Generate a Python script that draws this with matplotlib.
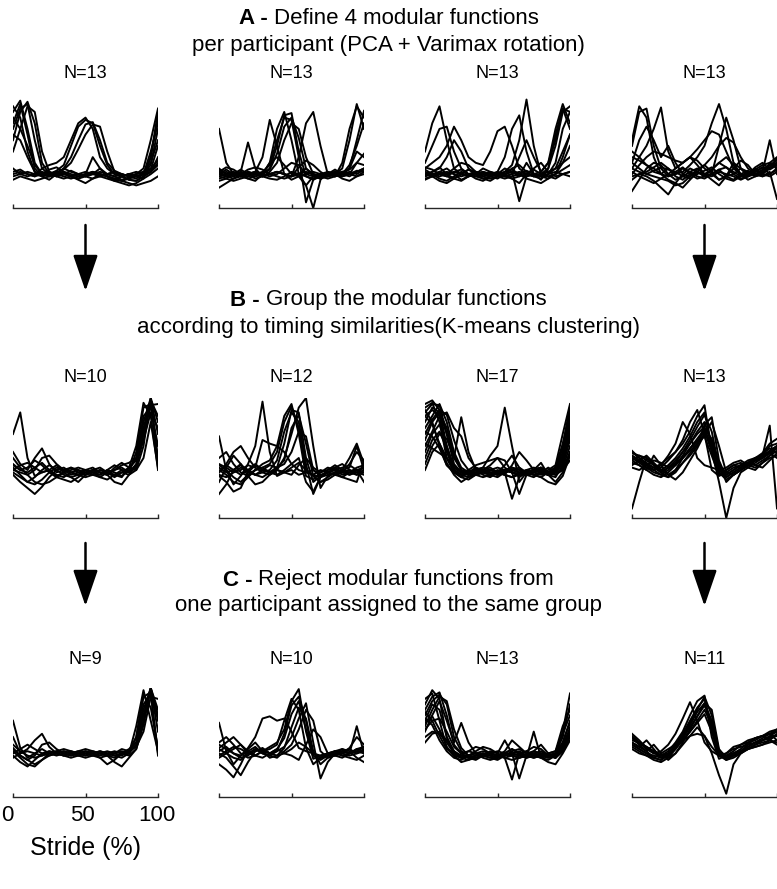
"""
Modular functions per participant, grouped by timing (K-means) and pruned.
Three rows of four small panels, curves sampled every 5 % of the stride.
"""
import matplotlib
matplotlib.use("Agg")
import matplotlib.pyplot as plt
import matplotlib.transforms as mtrans
from matplotlib.patches import FancyArrowPatch

plt.rcParams["font.family"] = ["Liberation Sans", "DejaVu Sans"]

W, H = 777, 889

stride = list(range(0, 101, 5))

# ── Row A: 4 modular functions per participant ───────────────────────────────
a1 = [
    [85, 95, 70, 40, 30, 28, 30, 32, 30, 28, 30, 32, 30, 28, 26, 28, 30, 28, 30, 45, 80],
    [70, 88, 92, 60, 35, 30, 28, 30, 33, 30, 28, 30, 35, 30, 28, 25, 27, 30, 35, 60, 88],
    [90, 80, 50, 32, 28, 30, 32, 30, 28, 30, 32, 30, 28, 30, 32, 30, 28, 30, 32, 40, 60],
    [60, 85, 94, 75, 40, 30, 28, 26, 28, 30, 28, 32, 30, 28, 25, 24, 26, 28, 30, 38, 70],
    [75, 92, 65, 35, 28, 25, 30, 35, 32, 30, 28, 26, 28, 30, 32, 28, 25, 24, 28, 32, 45],
    [50, 70, 90, 85, 50, 32, 28, 30, 28, 26, 28, 30, 32, 30, 28, 30, 28, 26, 30, 50, 75],
    [65, 60, 45, 32, 30, 34, 36, 32, 28, 25, 22, 26, 30, 28, 24, 22, 20, 22, 26, 30, 35],
    [30, 32, 30, 28, 35, 38, 40, 45, 60, 75, 80, 70, 45, 35, 30, 28, 25, 24, 28, 32, 40],
    [35, 30, 28, 30, 32, 30, 33, 38, 55, 72, 78, 75, 55, 38, 30, 28, 30, 28, 30, 34, 55],
    [32, 34, 30, 28, 30, 32, 30, 35, 45, 60, 74, 76, 60, 40, 33, 30, 28, 30, 32, 35, 42],
    [28, 30, 32, 30, 28, 30, 32, 34, 40, 52, 65, 74, 72, 50, 32, 28, 30, 32, 30, 32, 38],
    [80, 70, 55, 38, 30, 28, 30, 32, 28, 26, 30, 32, 28, 26, 24, 28, 30, 28, 26, 45, 85],
    [25, 28, 26, 24, 26, 28, 30, 28, 26, 28, 30, 45, 35, 28, 26, 24, 22, 20, 22, 24, 28],
]
a2 = [
    [70, 40, 30, 28, 32, 30, 28, 30, 32, 30, 28, 30, 32, 30, 28, 30, 32, 30, 28, 32, 35],
    [35, 30, 28, 32, 58, 35, 28, 30, 32, 30, 28, 30, 35, 30, 28, 30, 32, 30, 35, 50, 45],
    [30, 32, 30, 28, 30, 32, 45, 78, 55, 30, 25, 28, 30, 32, 30, 28, 30, 32, 30, 28, 30],
    [32, 28, 30, 32, 30, 28, 30, 40, 70, 85, 60, 30, 20, 28, 30, 28, 30, 32, 30, 33, 32],
    [28, 30, 32, 30, 28, 30, 32, 38, 60, 80, 78, 45, 5, 25, 30, 32, 30, 28, 30, 32, 35],
    [30, 34, 30, 28, 30, 32, 30, 35, 55, 82, 84, 50, 28, 25, 28, 30, 28, 30, 32, 30, 34],
    [26, 28, 30, 28, 26, 28, 30, 34, 48, 72, 80, 62, 35, 28, 26, 28, 30, 35, 60, 92, 70],
    [34, 30, 28, 30, 32, 30, 28, 32, 40, 60, 75, 70, 45, 30, 28, 26, 28, 40, 70, 90, 80],
    [24, 26, 30, 34, 30, 26, 28, 30, 32, 30, 28, 45, 75, 85, 55, 30, 28, 30, 38, 55, 75],
    [30, 28, 26, 28, 30, 32, 30, 28, 30, 35, 40, 38, 30, 28, 26, 30, 34, 30, 35, 60, 86],
    [18, 22, 26, 30, 34, 36, 34, 30, 28, 26, 28, 36, 42, 38, 32, 28, 30, 26, 24, 28, 32],
    [32, 36, 34, 30, 26, 24, 30, 40, 45, 38, 30, 28, 20, 0, 25, 32, 30, 28, 30, 40, 48],
    [28, 26, 24, 26, 28, 30, 28, 26, 25, 28, 32, 30, 28, 26, 28, 30, 28, 32, 34, 40, 38],
]
a3 = [
    [50, 75, 90, 60, 35, 30, 28, 30, 32, 30, 28, 30, 32, 30, 28, 30, 32, 40, 60, 88, 70],
    [40, 55, 70, 72, 50, 35, 30, 28, 30, 32, 30, 28, 30, 32, 30, 28, 30, 32, 35, 40, 45],
    [35, 40, 45, 55, 72, 60, 45, 40, 38, 50, 68, 72, 55, 35, 30, 28, 30, 35, 55, 85, 90],
    [30, 32, 35, 45, 60, 50, 35, 30, 28, 30, 32, 45, 70, 82, 50, 30, 28, 30, 35, 50, 65],
    [28, 30, 32, 30, 35, 40, 38, 32, 30, 28, 30, 32, 38, 60, 96, 55, 30, 28, 30, 40, 55],
    [32, 30, 28, 30, 32, 30, 28, 30, 35, 32, 30, 28, 30, 45, 60, 45, 32, 40, 70, 92, 75],
    [30, 28, 30, 32, 30, 28, 30, 32, 30, 28, 30, 35, 32, 28, 40, 30, 25, 35, 65, 88, 85],
    [26, 28, 30, 28, 26, 30, 34, 32, 28, 26, 28, 30, 32, 6, 28, 30, 28, 26, 30, 34, 38],
    [34, 30, 26, 24, 28, 32, 30, 26, 24, 28, 32, 30, 26, 22, 30, 35, 40, 32, 28, 30, 32],
    [30, 28, 24, 22, 26, 30, 34, 30, 26, 24, 28, 32, 34, 30, 26, 24, 22, 26, 30, 45, 65],
    [28, 32, 36, 30, 26, 24, 28, 32, 30, 28, 26, 30, 35, 38, 32, 28, 26, 30, 40, 70, 85],
    [36, 34, 30, 28, 32, 34, 30, 28, 26, 28, 30, 28, 26, 28, 30, 34, 30, 28, 26, 30, 32],
    [25, 28, 32, 35, 30, 25, 28, 30, 32, 30, 28, 26, 28, 30, 33, 30, 28, 30, 32, 30, 28],
]
a4 = [
    [60, 90, 80, 45, 30, 35, 28, 25, 30, 32, 28, 30, 25, 28, 30, 35, 32, 30, 28, 30, 35],
    [55, 85, 88, 55, 35, 28, 30, 35, 32, 28, 26, 30, 34, 28, 25, 30, 33, 28, 30, 40, 45],
    [40, 60, 72, 60, 45, 55, 40, 30, 28, 32, 38, 45, 55, 62, 58, 45, 35, 30, 32, 36, 40],
    [35, 45, 55, 70, 89, 50, 35, 40, 45, 38, 30, 34, 40, 45, 38, 28, 30, 35, 30, 38, 42],
    [30, 38, 45, 50, 48, 45, 42, 40, 45, 52, 60, 68, 65, 50, 35, 30, 28, 32, 36, 30, 34],
    [28, 30, 32, 36, 40, 35, 30, 32, 38, 45, 55, 75, 92, 70, 40, 30, 25, 28, 30, 35, 40],
    [32, 28, 25, 22, 26, 30, 35, 40, 45, 42, 35, 30, 55, 80, 60, 35, 28, 30, 32, 60, 30],
    [15, 25, 35, 40, 38, 30, 25, 28, 32, 35, 30, 25, 20, 28, 40, 35, 30, 34, 38, 40, 38],
    [40, 35, 30, 28, 26, 24, 20, 22, 28, 34, 38, 32, 25, 28, 35, 42, 38, 30, 28, 32, 8],
    [45, 42, 38, 35, 30, 25, 22, 18, 25, 32, 30, 28, 32, 30, 28, 25, 28, 34, 30, 28, 32],
    [25, 30, 28, 24, 18, 12, 22, 30, 35, 32, 28, 30, 34, 36, 32, 28, 30, 36, 40, 34, 38],
    [35, 32, 30, 33, 36, 34, 32, 28, 26, 30, 33, 36, 30, 26, 24, 28, 32, 30, 34, 38, 36],
    [50, 45, 38, 32, 30, 28, 32, 36, 30, 26, 28, 34, 40, 36, 30, 26, 28, 32, 36, 35, 44],
]

# ── Row B: grouped by timing similarity ──────────────────────────────────────
b1 = [
    [70, 88, 50, 35, 38, 40, 36, 34, 38, 40, 36, 38, 34, 38, 40, 44, 46, 50, 70, 98, 85],
    [55, 45, 40, 50, 58, 45, 38, 40, 42, 38, 36, 38, 40, 38, 36, 38, 42, 48, 80, 100, 45],
    [45, 40, 38, 42, 46, 40, 35, 38, 40, 42, 40, 38, 36, 40, 44, 40, 38, 55, 92, 95, 50],
    [40, 38, 36, 40, 50, 52, 45, 40, 38, 36, 38, 40, 42, 38, 36, 34, 42, 60, 96, 85, 40],
    [42, 36, 30, 28, 32, 38, 42, 40, 36, 38, 40, 42, 38, 36, 40, 42, 38, 45, 75, 99, 70],
    [38, 34, 30, 34, 40, 44, 40, 36, 34, 36, 40, 38, 36, 40, 38, 35, 40, 50, 85, 92, 60],
    [36, 30, 25, 20, 26, 34, 40, 42, 38, 36, 34, 36, 40, 38, 34, 38, 36, 40, 60, 100, 80],
    [50, 42, 36, 30, 28, 30, 34, 38, 42, 40, 38, 36, 34, 32, 36, 40, 38, 42, 70, 94, 95],
    [44, 40, 42, 48, 44, 38, 34, 32, 30, 34, 38, 40, 38, 36, 30, 28, 36, 44, 65, 88, 75],
    [40, 44, 46, 42, 38, 40, 44, 38, 34, 30, 36, 40, 38, 36, 42, 46, 42, 40, 50, 80, 42],
]
b2 = [
    [68, 40, 28, 35, 45, 60, 97, 55, 35, 38, 40, 36, 38, 40, 36, 38, 40, 36, 38, 40, 42],
    [38, 45, 55, 60, 50, 42, 65, 62, 60, 55, 45, 40, 38, 36, 40, 38, 36, 38, 40, 36, 38],
    [50, 55, 45, 38, 35, 40, 45, 48, 60, 85, 95, 70, 35, 32, 38, 42, 40, 38, 45, 55, 48],
    [40, 36, 30, 28, 34, 40, 42, 45, 55, 80, 93, 75, 40, 35, 30, 34, 38, 40, 38, 36, 40],
    [35, 30, 22, 25, 38, 44, 40, 38, 42, 62, 90, 88, 50, 30, 35, 38, 36, 34, 38, 42, 44],
    [45, 42, 38, 40, 44, 42, 38, 36, 40, 50, 70, 92, 100, 60, 25, 35, 38, 40, 36, 38, 42],
    [30, 42, 52, 45, 38, 36, 40, 44, 42, 48, 75, 86, 62, 35, 30, 32, 36, 40, 50, 62, 45],
    [42, 38, 40, 44, 40, 36, 38, 40, 48, 72, 88, 80, 45, 20, 34, 40, 42, 38, 36, 40, 38],
    [38, 44, 40, 36, 40, 45, 40, 38, 42, 45, 55, 72, 68, 40, 35, 38, 42, 45, 40, 38, 36],
    [20, 28, 40, 45, 35, 28, 30, 36, 40, 38, 36, 44, 50, 42, 38, 40, 44, 40, 42, 60, 40],
    [44, 40, 34, 30, 36, 40, 42, 38, 36, 40, 45, 50, 30, 22, 34, 38, 40, 42, 44, 40, 30],
    [36, 34, 38, 42, 40, 36, 34, 38, 40, 38, 42, 46, 40, 36, 34, 36, 38, 34, 32, 30, 48],
]
b3 = [
    [95, 98, 90, 60, 42, 38, 36, 38, 40, 38, 36, 38, 40, 38, 36, 38, 40, 38, 42, 60, 93],
    [92, 96, 80, 50, 40, 36, 38, 40, 38, 36, 38, 40, 38, 36, 38, 40, 38, 36, 40, 55, 85],
    [88, 95, 94, 70, 45, 38, 36, 38, 40, 38, 36, 38, 40, 42, 38, 36, 38, 40, 44, 70, 95],
    [85, 90, 85, 55, 40, 36, 34, 36, 38, 40, 38, 36, 34, 36, 38, 40, 42, 38, 40, 50, 75],
    [80, 92, 88, 75, 52, 40, 38, 36, 38, 40, 42, 40, 38, 36, 38, 40, 38, 36, 38, 48, 70],
    [75, 85, 95, 80, 55, 42, 38, 36, 38, 40, 38, 36, 34, 38, 40, 38, 36, 38, 42, 62, 88],
    [90, 80, 60, 44, 38, 36, 38, 40, 38, 36, 38, 40, 38, 36, 40, 42, 40, 38, 40, 52, 80],
    [70, 82, 90, 86, 65, 48, 40, 36, 34, 36, 38, 40, 42, 40, 38, 36, 34, 38, 42, 58, 82],
    [65, 80, 88, 70, 50, 84, 55, 40, 36, 34, 38, 40, 38, 36, 38, 40, 38, 36, 38, 45, 65],
    [60, 72, 85, 88, 75, 68, 50, 42, 40, 38, 36, 38, 40, 38, 36, 38, 40, 38, 36, 40, 55],
    [55, 70, 78, 60, 42, 38, 40, 44, 46, 48, 50, 42, 38, 36, 38, 40, 42, 38, 36, 42, 60],
    [50, 65, 72, 58, 40, 36, 38, 40, 42, 52, 60, 92, 60, 30, 38, 40, 38, 36, 38, 46, 72],
    [45, 60, 70, 66, 50, 40, 36, 38, 40, 44, 50, 48, 38, 20, 36, 40, 42, 38, 40, 50, 78],
    [40, 55, 62, 50, 38, 34, 32, 36, 40, 42, 38, 36, 44, 55, 48, 40, 46, 36, 30, 38, 55],
    [85, 78, 62, 46, 36, 30, 34, 38, 40, 36, 34, 38, 42, 40, 36, 34, 38, 42, 38, 40, 48],
    [72, 68, 58, 44, 38, 34, 38, 42, 38, 36, 40, 38, 16, 34, 38, 36, 34, 30, 28, 35, 52],
    [62, 58, 54, 50, 44, 38, 36, 40, 42, 40, 38, 44, 52, 42, 36, 38, 40, 36, 34, 44, 68],
]
b4 = [
    [55, 50, 45, 42, 45, 50, 55, 65, 80, 90, 70, 40, 35, 38, 42, 44, 46, 50, 52, 55, 58],
    [50, 48, 44, 40, 42, 48, 55, 62, 72, 85, 94, 55, 38, 40, 44, 42, 46, 48, 52, 56, 60],
    [48, 52, 50, 45, 40, 44, 50, 58, 68, 80, 88, 60, 40, 36, 40, 44, 48, 50, 54, 58, 54],
    [52, 48, 42, 38, 36, 40, 46, 55, 65, 76, 86, 72, 42, 34, 38, 42, 46, 44, 48, 52, 56],
    [46, 44, 40, 36, 34, 38, 44, 52, 62, 72, 80, 62, 38, 32, 36, 40, 44, 48, 50, 54, 58],
    [50, 46, 42, 40, 44, 52, 62, 80, 70, 50, 44, 42, 40, 42, 46, 48, 44, 42, 46, 50, 52],
    [8, 30, 50, 45, 38, 42, 48, 55, 62, 70, 76, 56, 30, 0, 25, 38, 42, 46, 50, 54, 50],
    [54, 52, 48, 44, 38, 34, 40, 50, 58, 66, 74, 66, 44, 36, 40, 44, 46, 50, 52, 77, 8],
    [44, 48, 52, 46, 40, 36, 32, 38, 48, 58, 70, 80, 60, 38, 36, 40, 44, 48, 52, 60, 62],
    [56, 50, 46, 42, 38, 42, 46, 50, 56, 62, 68, 52, 36, 40, 44, 46, 42, 40, 46, 52, 60],
    [48, 44, 40, 52, 44, 36, 40, 46, 52, 60, 78, 84, 48, 34, 38, 42, 46, 44, 42, 48, 54],
    [42, 40, 44, 48, 46, 42, 44, 50, 58, 64, 72, 56, 42, 38, 36, 40, 44, 48, 54, 62, 66],
    [52, 48, 44, 40, 36, 34, 38, 46, 54, 62, 70, 64, 46, 30, 36, 40, 44, 48, 50, 56, 60],
]

# ── Row C: one function per participant per group ────────────────────────────
c1 = [
    [70, 45, 36, 40, 44, 40, 38, 40, 42, 40, 38, 40, 42, 40, 38, 40, 44, 50, 80, 100, 60],
    [55, 40, 44, 52, 58, 46, 40, 38, 40, 42, 40, 38, 40, 42, 40, 38, 42, 55, 92, 96, 38],
    [45, 38, 34, 38, 48, 50, 44, 40, 38, 40, 42, 40, 38, 40, 42, 40, 40, 48, 75, 100, 80],
    [42, 36, 30, 28, 34, 40, 42, 40, 38, 40, 42, 40, 36, 30, 34, 40, 38, 44, 70, 99, 70],
    [40, 44, 48, 44, 40, 38, 40, 42, 40, 38, 40, 42, 40, 38, 36, 40, 42, 46, 60, 92, 90],
    [38, 32, 28, 34, 40, 42, 40, 38, 40, 42, 44, 42, 40, 38, 40, 42, 40, 55, 94, 82, 45],
    [36, 40, 42, 40, 38, 40, 42, 44, 42, 40, 38, 40, 42, 40, 38, 36, 40, 65, 98, 70, 42],
    [48, 42, 38, 36, 38, 42, 40, 38, 36, 38, 40, 38, 36, 38, 32, 28, 36, 44, 66, 100, 75],
    [44, 38, 34, 30, 34, 38, 40, 42, 40, 38, 36, 38, 40, 38, 40, 44, 42, 50, 85, 95, 40],
]
c2 = [
    [68, 42, 30, 38, 45, 55, 72, 74, 70, 72, 60, 45, 42, 40, 38, 40, 42, 38, 40, 44, 46],
    [45, 50, 55, 48, 40, 38, 42, 46, 50, 62, 88, 99, 60, 35, 38, 40, 42, 40, 38, 40, 42],
    [40, 36, 28, 20, 32, 42, 44, 40, 42, 58, 84, 92, 70, 38, 34, 38, 42, 44, 40, 42, 40],
    [50, 55, 48, 40, 36, 38, 42, 44, 48, 70, 90, 80, 45, 30, 36, 40, 38, 40, 45, 55, 48],
    [38, 42, 46, 44, 40, 42, 45, 40, 44, 54, 76, 88, 62, 40, 36, 38, 40, 42, 40, 65, 40],
    [30, 25, 18, 30, 44, 50, 42, 36, 38, 45, 64, 82, 72, 42, 30, 36, 40, 38, 36, 34, 38],
    [42, 46, 40, 36, 38, 44, 40, 38, 36, 42, 48, 62, 80, 70, 42, 36, 38, 42, 44, 40, 44],
    [48, 44, 40, 38, 42, 46, 40, 38, 42, 46, 55, 72, 86, 50, 17, 32, 40, 42, 40, 44, 42],
    [36, 40, 44, 48, 42, 38, 36, 40, 44, 40, 38, 34, 48, 62, 55, 40, 38, 36, 40, 42, 46],
    [44, 40, 36, 34, 40, 44, 42, 40, 38, 40, 44, 50, 46, 40, 36, 38, 40, 44, 42, 36, 32],
]
c3 = [
    [85, 98, 90, 55, 40, 38, 36, 38, 40, 38, 36, 38, 40, 38, 36, 38, 40, 38, 40, 60, 95],
    [90, 95, 70, 45, 38, 36, 38, 40, 38, 36, 38, 40, 38, 36, 38, 40, 38, 36, 40, 55, 85],
    [80, 92, 96, 75, 48, 40, 36, 38, 40, 38, 36, 38, 40, 42, 38, 36, 38, 40, 42, 65, 80],
    [75, 88, 94, 85, 55, 42, 38, 36, 38, 40, 42, 40, 38, 36, 38, 40, 42, 38, 40, 50, 70],
    [70, 85, 80, 55, 42, 36, 34, 36, 38, 40, 38, 36, 34, 36, 38, 40, 38, 36, 38, 48, 62],
    [65, 80, 92, 88, 62, 45, 38, 36, 38, 40, 38, 36, 38, 40, 38, 36, 38, 40, 42, 58, 75],
    [60, 75, 88, 70, 50, 68, 50, 40, 36, 34, 36, 40, 44, 40, 36, 38, 40, 38, 36, 45, 60],
    [55, 60, 58, 50, 40, 36, 38, 42, 46, 44, 40, 52, 40, 17, 38, 42, 40, 38, 36, 42, 55],
    [72, 66, 52, 42, 36, 34, 38, 40, 42, 40, 38, 40, 44, 40, 36, 60, 36, 38, 40, 50, 68],
    [50, 58, 60, 52, 42, 38, 36, 34, 38, 42, 40, 36, 16, 40, 42, 38, 36, 34, 38, 46, 58],
    [68, 74, 62, 46, 38, 32, 34, 38, 40, 38, 36, 38, 42, 44, 40, 38, 36, 32, 30, 40, 52],
    [78, 70, 56, 44, 40, 38, 42, 46, 44, 40, 38, 42, 52, 46, 40, 42, 48, 40, 36, 44, 64],
    [62, 70, 72, 60, 46, 40, 42, 40, 38, 36, 34, 38, 40, 38, 42, 46, 44, 38, 36, 42, 56],
]
c4 = [
    [58, 52, 45, 40, 38, 42, 50, 60, 75, 88, 93, 55, 35, 38, 40, 42, 44, 46, 48, 52, 58],
    [54, 48, 42, 36, 34, 40, 48, 58, 70, 82, 90, 62, 38, 36, 40, 42, 44, 48, 52, 56, 60],
    [50, 46, 52, 44, 36, 38, 44, 54, 66, 78, 86, 70, 40, 34, 38, 40, 46, 50, 52, 55, 57],
    [48, 44, 40, 36, 34, 38, 46, 56, 68, 80, 92, 75, 42, 36, 38, 42, 48, 54, 56, 58, 62],
    [56, 50, 44, 40, 42, 48, 58, 72, 87, 70, 50, 42, 38, 40, 44, 46, 48, 50, 52, 54, 56],
    [52, 50, 46, 42, 38, 36, 40, 48, 56, 64, 56, 40, 20, 3, 30, 40, 44, 46, 48, 50, 52],
    [46, 42, 38, 34, 32, 36, 44, 52, 60, 70, 80, 66, 40, 36, 40, 44, 50, 54, 56, 58, 52],
    [50, 46, 42, 48, 40, 34, 40, 50, 62, 74, 86, 80, 44, 36, 38, 42, 46, 50, 54, 58, 60],
    [44, 40, 38, 36, 40, 44, 48, 52, 56, 58, 56, 46, 38, 40, 46, 48, 50, 52, 56, 60, 62],
    [55, 50, 46, 42, 38, 40, 46, 52, 60, 68, 76, 60, 38, 34, 36, 40, 44, 48, 50, 52, 50],
    [48, 44, 40, 38, 36, 40, 46, 54, 64, 74, 84, 68, 42, 38, 42, 48, 52, 54, 56, 52, 48],
]

rows = [[a1, a2, a3, a4], [b1, b2, b3, b4], [c1, c2, c3, c4]]

titles = [
    ("A - ", "Define 4 modular functions", "per participant (PCA + Varimax rotation)"),
    ("B - ", "Group the modular functions", "according to timing similarities(K-means clustering)"),
    ("C - ", "Reject modular functions from", "one participant assigned to the same group"),
]

# layout in pixels (top-origin)
col_left = [13, 219, 425, 632]
col_w = 145
row_top = [95, 398, 688]
row_bot = [208, 518, 797]
n_label_y = [74, 378, 660]
title_y = [(18, 45), (300, 327), (580, 606)]
arrow_y = [(225, 291), (543, 606)]

fig = plt.figure(figsize=(W / 100, H / 100), dpi=100)


def fx(px):
    return px / W


def fy(py):
    return 1 - py / H


for r, panels in enumerate(rows):
    for c, curves in enumerate(panels):
        ax = fig.add_axes([fx(col_left[c]), fy(row_bot[r]),
                           col_w / W, (row_bot[r] - row_top[r]) / H])
        for y in curves:
            ax.plot(stride, y, color="black", lw=1.4, solid_joinstyle="round")
        ax.set_xlim(0, 100)
        ax.set_ylim(0, 100)
        ax.spines[["top", "right", "left"]].set_visible(False)
        ax.spines["bottom"].set_color("#262626")
        ax.spines["bottom"].set_linewidth(1.0)
        ax.set_yticks([])
        ax.set_xticks([0, 50, 100])
        ax.tick_params(axis="x", direction="in", length=3, width=1.0,
                       color="#262626", labelsize=16, pad=6)
        if r == 2 and c == 0:
            ax.set_xticklabels(["0", "50", "100"])
            ax.set_xlabel("Stride (%)", fontsize=18, labelpad=7)
            # MATLAB-like placement: labels sit slightly left of their ticks
            for lab, dx in zip(ax.get_xticklabels(), (-6, -3, -1)):
                lab.set_transform(lab.get_transform() +
                                  mtrans.ScaledTranslation(dx / 100, 0, fig.dpi_scale_trans))
        else:
            ax.set_xticklabels([])
        top_y = 1 + (row_top[r] - n_label_y[r]) / (row_bot[r] - row_top[r])
        ax.set_title(f"N={len(curves)}", fontsize=13, pad=0, y=top_y, va="center")

# titles: bold lead-in followed by regular text, centred as one line
renderer = fig.canvas.get_renderer()
for (lead, line1, line2), (y1, y2) in zip(titles, title_y):
    tb = fig.text(0, fy(y1), lead, fontsize=16, weight="bold", va="center")
    tr = fig.text(0, fy(y1), line1, fontsize=16, va="center")
    wb = tb.get_window_extent(renderer).width
    wr = tr.get_window_extent(renderer).width
    x0 = (W - wb - wr) / 2
    tb.set_x(fx(x0))
    tr.set_x(fx(x0 + wb))
    fig.text(0.5, fy(y2), line2, fontsize=16, ha="center", va="center")

for (ya, yb) in arrow_y:
    for c in (0, 3):
        xc = fx(col_left[c] + col_w / 2)
        fig.add_artist(FancyArrowPatch(
            (xc, fy(ya)), (xc, fy(yb)), transform=fig.transFigure,
            arrowstyle="-|>,head_length=1.6,head_width=0.55",
            mutation_scale=14, color="black", lw=1.8, shrinkA=0, shrinkB=0))

fig.savefig("out.png", dpi=100)
